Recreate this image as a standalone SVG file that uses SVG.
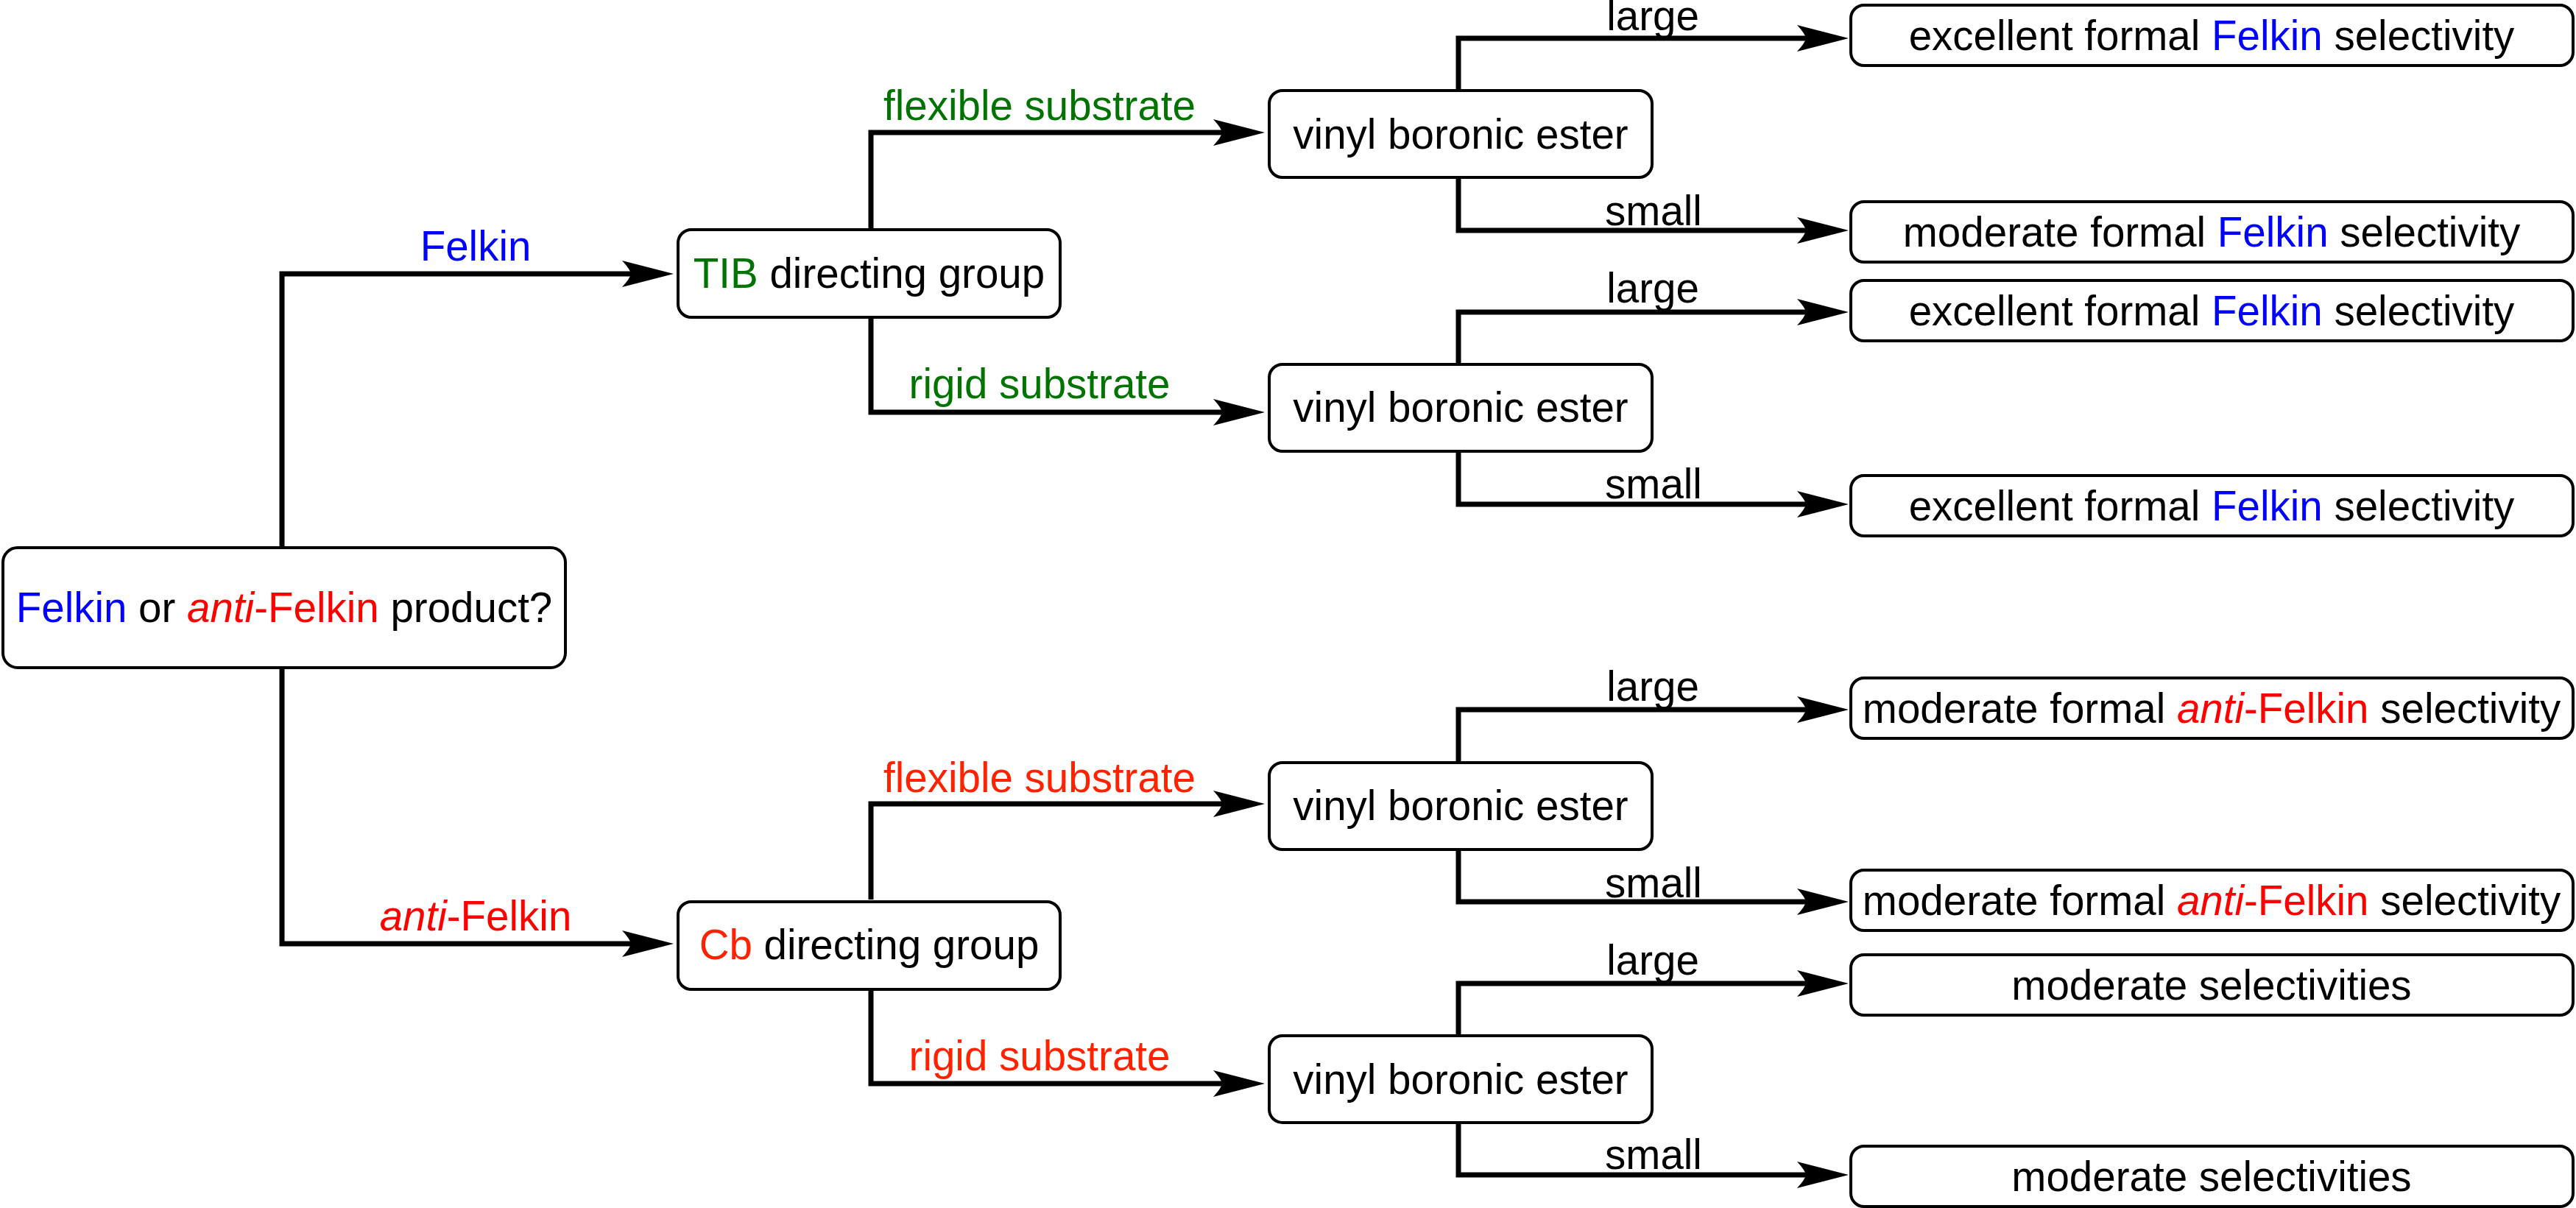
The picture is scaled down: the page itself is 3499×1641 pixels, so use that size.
<svg xmlns="http://www.w3.org/2000/svg" width="3499" height="1641" viewBox="0 0 3499 1641">
<style>
text{font-family:"Liberation Sans",Arial,sans-serif;font-size:56.5px;fill:#000;text-anchor:middle}
.box{fill:#fff;stroke:#000;stroke-width:4}
.con{fill:none;stroke:#000;stroke-width:7;stroke-linejoin:miter;marker-end:url(#arr)}
.b{fill:#0000ff}
.r{fill:#ff0000}
.o{fill:#ff2200}
.g{fill:#007300}
.i{font-style:italic}
</style>
<defs>
<marker id="arr" viewBox="0 0 70 36" markerWidth="70" markerHeight="36" refX="20" refY="18" orient="auto" markerUnits="userSpaceOnUse">
<path d="M70,18 L0,0 Q11,12 12,18 Q11,24 0,36 Z" fill="#000"/>
</marker>
</defs>
<rect width="3499" height="1641" fill="#fff"/>
<g id="connectors">
<path class="con" d="M383,742 V372 H865"/>
<path class="con" d="M383,909 V1282 H865"/>
<path class="con" d="M1183,310 V180 H1668"/>
<path class="con" d="M1183,433 V560 H1668"/>
<path class="con" d="M1183,1222 V1092 H1668"/>
<path class="con" d="M1183,1345 V1472 H1668"/>
<path class="con" d="M1981,121 V52 H2461"/>
<path class="con" d="M1981,243 V313 H2461"/>
<path class="con" d="M1981,493 V424 H2461"/>
<path class="con" d="M1981,615 V685 H2461"/>
<path class="con" d="M1981,1034 V964 H2461"/>
<path class="con" d="M1981,1155 V1225 H2461"/>
<path class="con" d="M1981,1405 V1336 H2461"/>
<path class="con" d="M1981,1527 V1596 H2461"/>
<text x="646" y="354" class="b">Felkin</text>
<text x="646" y="1264"><tspan class="r i">anti</tspan><tspan class="r">-Felkin</tspan></text>
<text x="1412" y="163" class="g">flexible substrate</text>
<text x="1412" y="541" class="g">rigid substrate</text>
<text x="1412" y="1076" class="o">flexible substrate</text>
<text x="1412" y="1454" class="o">rigid substrate</text>
<text x="2245" y="41">large</text>
<text x="2246" y="306">small</text>
<text x="2245" y="411">large</text>
<text x="2246" y="677">small</text>
<text x="2245" y="952">large</text>
<text x="2246" y="1219">small</text>
<text x="2245" y="1324">large</text>
<text x="2246" y="1588">small</text>
</g>
<g id="root">
<rect class="box" x="4" y="744" width="764" height="163" rx="20"/>
<text x="386" y="845"><tspan class="b">Felkin</tspan> or <tspan class="r i">anti</tspan><tspan class="r">-Felkin</tspan> product?</text>
</g>
<g id="tib">
<rect class="box" x="921" y="312" width="519" height="119" rx="18"/>
<text x="1180.5" y="391"><tspan class="g">TIB</tspan> directing group</text>
</g>
<g id="cb">
<rect class="box" x="921" y="1225" width="519" height="119" rx="18"/>
<text x="1180.5" y="1303"><tspan class="o">Cb</tspan> directing group</text>
</g>
<g id="vinyl1">
<rect class="box" x="1724" y="123" width="520" height="118" rx="18"/>
<text x="1984" y="202">vinyl boronic ester</text>
</g>
<g id="vinyl2">
<rect class="box" x="1724" y="495" width="520" height="118" rx="18"/>
<text x="1984" y="573">vinyl boronic ester</text>
</g>
<g id="vinyl3">
<rect class="box" x="1724" y="1036" width="520" height="118" rx="18"/>
<text x="1984" y="1114">vinyl boronic ester</text>
</g>
<g id="vinyl4">
<rect class="box" x="1724" y="1407" width="520" height="118" rx="18"/>
<text x="1984" y="1486">vinyl boronic ester</text>
</g>
<g id="r1">
<rect class="box" x="2514" y="7" width="981" height="82" rx="18"/>
<text x="3004" y="68">excellent formal <tspan class="b">Felkin</tspan> selectivity</text>
</g>
<g id="r2">
<rect class="box" x="2514" y="274" width="981" height="82" rx="18"/>
<text x="3004" y="335">moderate formal <tspan class="b">Felkin</tspan> selectivity</text>
</g>
<g id="r3">
<rect class="box" x="2514" y="381" width="981" height="82" rx="18"/>
<text x="3004" y="442">excellent formal <tspan class="b">Felkin</tspan> selectivity</text>
</g>
<g id="r4">
<rect class="box" x="2514" y="646" width="981" height="82" rx="18"/>
<text x="3004" y="707">excellent formal <tspan class="b">Felkin</tspan> selectivity</text>
</g>
<g id="r5">
<rect class="box" x="2514" y="921" width="981" height="82" rx="18"/>
<text x="3004" y="982">moderate formal <tspan class="r i">anti</tspan><tspan class="r">-Felkin</tspan> selectivity</text>
</g>
<g id="r6">
<rect class="box" x="2514" y="1182" width="981" height="82" rx="18"/>
<text x="3004" y="1243">moderate formal <tspan class="r i">anti</tspan><tspan class="r">-Felkin</tspan> selectivity</text>
</g>
<g id="r7">
<rect class="box" x="2514" y="1297" width="981" height="82" rx="18"/>
<text x="3004" y="1358">moderate selectivities</text>
</g>
<g id="r8">
<rect class="box" x="2514" y="1557" width="981" height="82" rx="18"/>
<text x="3004" y="1618">moderate selectivities</text>
</g>
</svg>
